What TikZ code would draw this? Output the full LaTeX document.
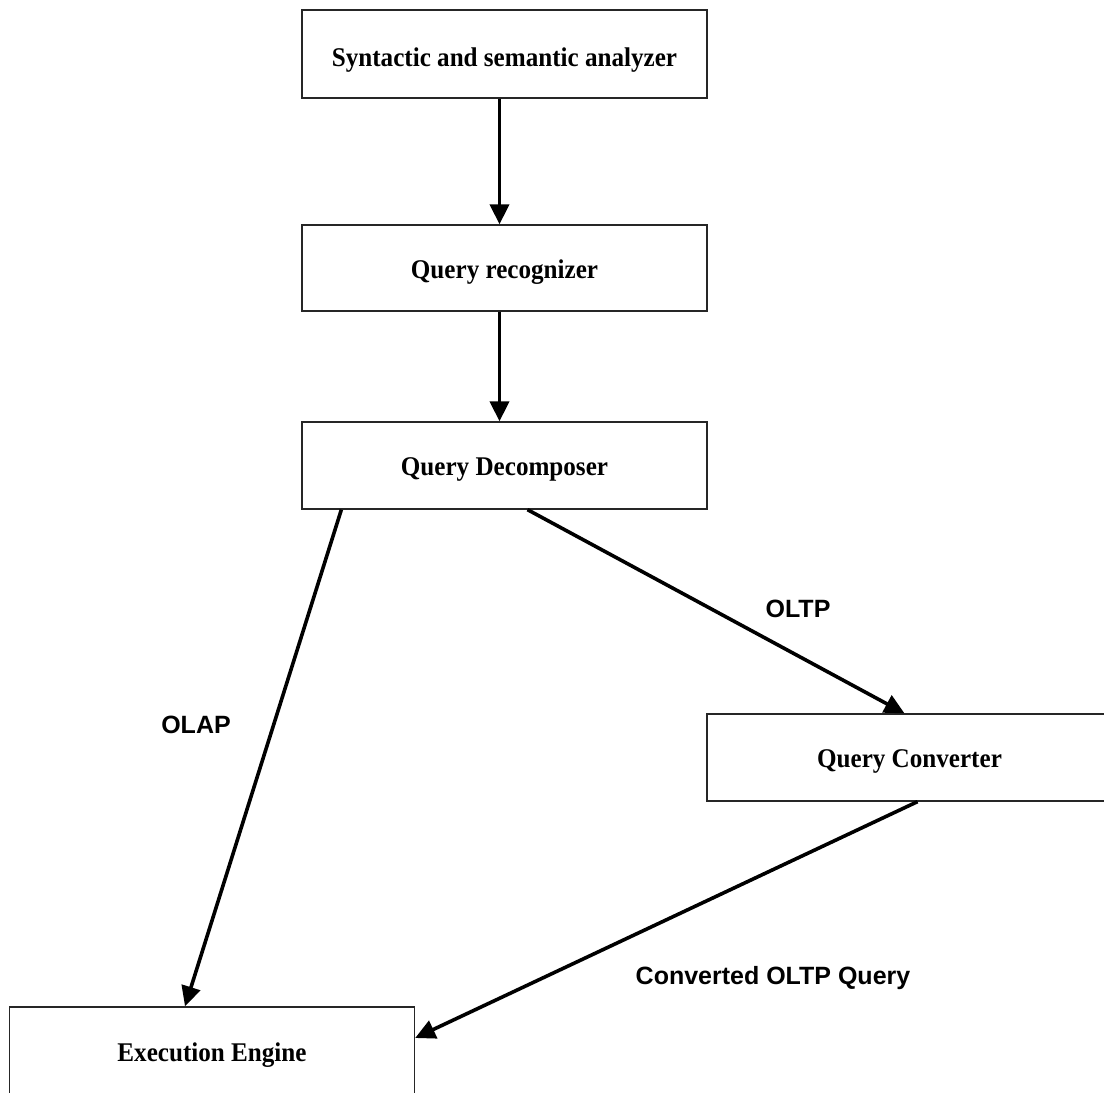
\documentclass[tikz,border=0pt]{standalone}
\usepackage{fontspec}
\usetikzlibrary{arrows.meta}
\newfontfamily\boxfont[FakeStretch=0.93]{Liberation Serif}
\newfontfamily\labelfont{Liberation Sans}
\begin{document}
\begin{tikzpicture}[x=1pt,y=-1pt,
  stagebox/.style={draw=black!85, line width=1.3pt, minimum width=405pt,
    minimum height=87pt, inner sep=0pt, text height=20pt, text depth=0pt,
    font=\boxfont\bfseries\fontsize{27}{30}\selectfont},
  flow/.style={line width=3.6pt, -{Triangle[length=20pt,width=19pt]}},
  tag/.style={font=\labelfont\bfseries\fontsize{25}{28}\selectfont}]
  \useasboundingbox (0,0) rectangle (1104,1093);
  \clip (0,0) rectangle (1104,1093);
  \fill[white] (0,0) rectangle (1104,1093);

  % processing stages
  \node[stagebox, minimum height=88pt, text height=24pt] (syn) at (504.5,54)  {Syntactic and semantic analyzer};
  \node[stagebox, minimum height=86pt] (rec) at (504.5,268) {Query recognizer};
  \node[stagebox] (dec) at (504.5,465.5) {Query Decomposer};
  \node[stagebox] (conv) at (909.5,757.5) {Query Converter};
  \node[stagebox, minimum height=88pt] (exe) at (212,1051) {Execution Engine};

  % connectors
  \draw[flow] ([xshift=-5pt]syn.south) -- ([xshift=-5pt]rec.north);
  \draw[flow] ([xshift=-5pt]rec.south) -- ([xshift=-5pt]dec.north);
  \draw[flow] ([xshift=40pt]dec.south west) -- ([xshift=-27pt]exe.north);
  \draw[flow] ([xshift=23pt]dec.south) -- ([xshift=-5pt]conv.north);
  \draw[flow] ([xshift=8pt]conv.south) -- ([yshift=13pt]exe.east);

  % edge labels
  \node[tag] (lolap) at (196,725) {OLAP};
  \node[tag] (loltp) at (798,609) {OLTP};
  \node[tag] (lconv) at (773,978) {Converted OLTP Query};
\end{tikzpicture}
\end{document}
